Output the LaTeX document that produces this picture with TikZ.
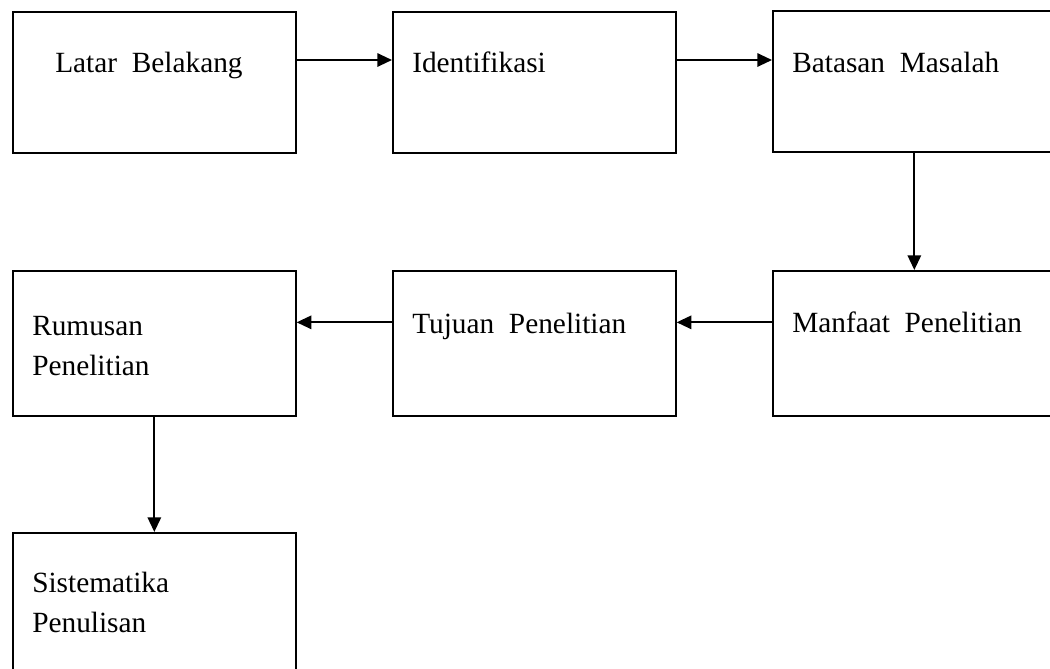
\documentclass[tikz,border=0pt]{standalone}
\usepackage{fontspec}
\setmainfont{Liberation Serif}
\usetikzlibrary{arrows.meta}
\begin{document}
\begin{tikzpicture}[x=0.75pt,y=-0.75pt,
	kotak/.style={draw,line width=1.5pt,rectangle,minimum width=212pt,minimum height=109pt,inner sep=0pt,anchor=north west},
	teks/.style={anchor=base west,inner sep=0pt,font=\rmfamily\fontsize{22}{30}\selectfont,align=left},
	panah/.style={line width=1.5pt,-{Triangle[length=11pt,width=10pt]}}]
		\useasboundingbox (0,0) rectangle (1050,668);
		%boxes
		\node[kotak,minimum height=106pt] (latar) at (12,11) {};
		\node[kotak,minimum height=106pt] (identifikasi) at (392,11) {};
		\node[kotak,minimum height=106pt] (batasan) at (772,10) {};
		\node[kotak] (rumusan) at (12,270) {};
		\node[kotak] (tujuan) at (392,270) {};
		\node[kotak] (manfaat) at (772,270) {};
		\node[kotak] (sistematika) at (12,532) {};
		%labels
		\node[teks] (tlatar) at (55,72) {Latar\ \ Belakang};
		\node[teks] (tidentifikasi) at (412,72) {Identifikasi};
		\node[teks] (tbatasan) at (792,72) {Batasan\ \ Masalah};
		\node[teks] (trumusan) at (32,375) {Rumusan\\Penelitian};
		\node[teks] (ttujuan) at (412,333) {Tujuan\ \ Penelitian};
		\node[teks] (tmanfaat) at (792,332) {Manfaat\ \ Penelitian};
		\node[teks] (tsistematika) at (32,632) {Sistematika\\Penulisan};
		%arrows
		\draw[panah] ([yshift=17pt]latar.east) -- ([yshift=17pt]identifikasi.west);
		\draw[panah] ([yshift=17pt]identifikasi.east) -- ([yshift=17pt]identifikasi.east -| batasan.west);
		\draw[panah] (batasan.south) -- (manfaat.north);
		\draw[panah] ([yshift=16pt]manfaat.west) -- ([yshift=16pt]tujuan.east);
		\draw[panah] ([yshift=16pt]tujuan.west) -- ([yshift=16pt]rumusan.east);
		\draw[panah] (rumusan.south) -- (sistematika.north);
\end{tikzpicture}
\end{document}
